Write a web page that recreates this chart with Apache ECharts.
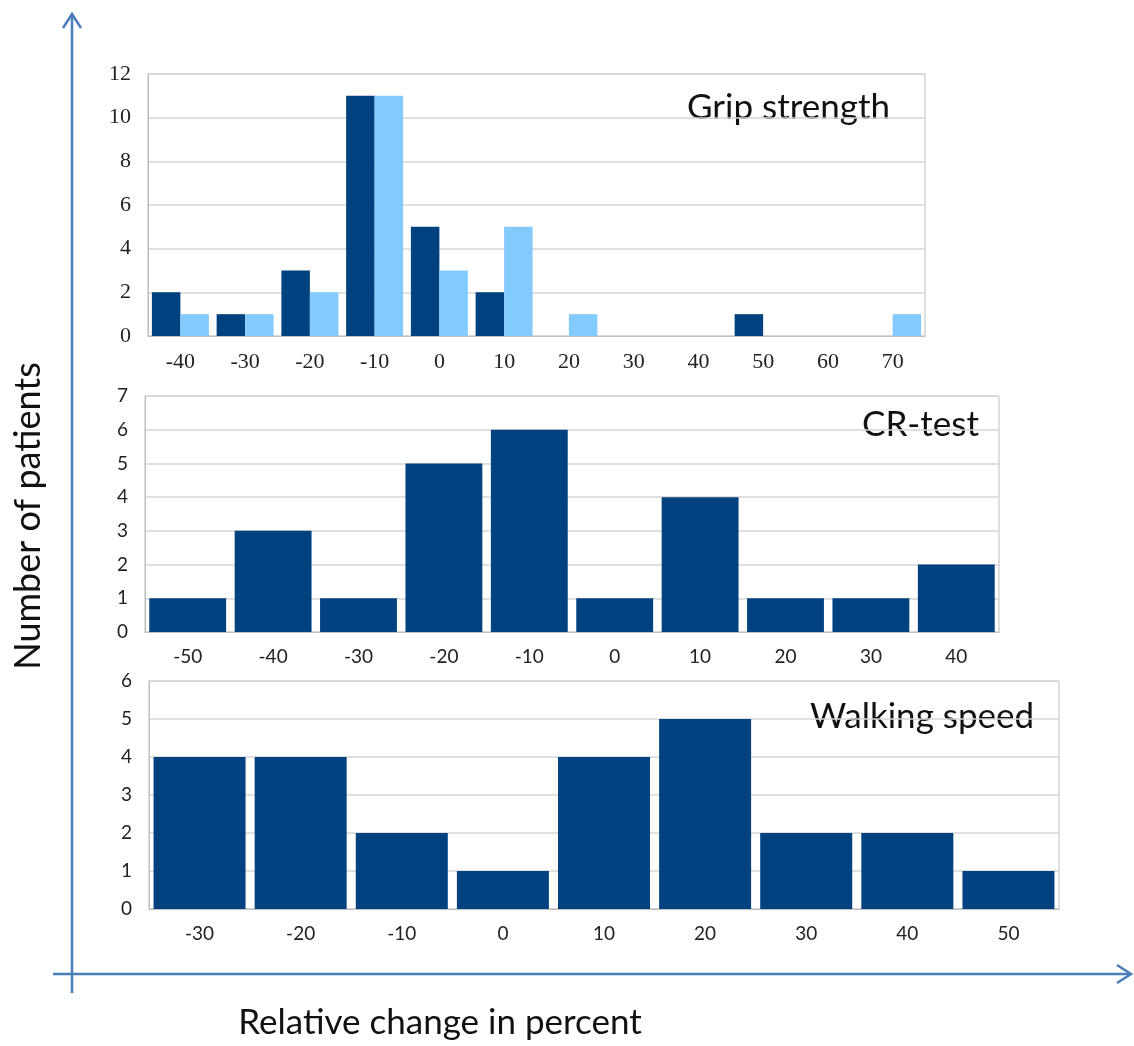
<!DOCTYPE html>
<html>
<head>
<meta charset="utf-8">
<script src="https://cdn.jsdelivr.net/npm/echarts@6/dist/echarts.min.js"></script>
<style>
  html, body { margin: 0; padding: 0; background: #fff; }
  #chart { width: 1134px; height: 1046px; }
</style>
</head>
<body>
<div id="chart"></div>
<script>
  // grip strength
  const gripCategories = ['-40', '-30', '-20', '-10', '0', '10', '20', '30', '40', '50', '60', '70']
  const gripDark = [2, 1, 3, 11, 5, 2, 0, 0, 0, 1, 0, 0]
  const gripLight = [1, 1, 2, 11, 3, 5, 1, 0, 0, 0, 0, 1]

  // CR-test
  const crCategories = ['-50', '-40', '-30', '-20', '-10', '0', '10', '20', '30', '40']
  const crValues = [1, 3, 1, 5, 6, 1, 4, 1, 1, 2]

  // walking speed
  const walkCategories = ['-30', '-20', '-10', '0', '10', '20', '30', '40', '50']
  const walkValues = [4, 4, 2, 1, 4, 5, 2, 2, 1]

  const DARK = '#00427f'
  const LIGHT = '#83caff'
  const ARROW = '#4a7ebb'
  const SANS = 'Lato'
  const SERIF = 'Liberation Serif'

  const chart = echarts.init(document.getElementById('chart'))

  function grid(left, top, width, height) {
    return { left, top, width, height, show: true, borderColor: '#bdbdbd', borderWidth: 1 }
  }

  function xAxis(idx, data, font, size) {
    return {
      type: 'category', gridIndex: idx, data: data,
      axisTick: { show: false },
      axisLine: { lineStyle: { color: '#bdbdbd' } },
      axisLabel: { color: '#222', fontFamily: font, fontSize: size, margin: 15 }
    }
  }

  function yAxis(idx, max, interval, font, size) {
    return {
      type: 'value', gridIndex: idx, min: 0, max: max, interval: interval,
      axisLine: { show: true, lineStyle: { color: '#bdbdbd' } },
      axisTick: { show: false },
      splitLine: { lineStyle: { color: '#d6d6d6', width: 1.5 } },
      axisLabel: { color: '#222', fontFamily: font, fontSize: size, margin: 17 }
    }
  }

  const option = {
    backgroundColor: '#fff',
    animation: false,
    grid: [
      grid(148, 74, 777, 262),
      grid(145, 396, 854, 236),
      grid(149, 681, 910, 228)
    ],
    xAxis: [
      xAxis(0, gripCategories, SERIF, 22),
      xAxis(1, crCategories, SANS, 19),
      xAxis(2, walkCategories, SANS, 19)
    ],
    yAxis: [
      yAxis(0, 12, 2, SERIF, 22),
      yAxis(1, 7, 1, SANS, 19),
      yAxis(2, 6, 1, SANS, 19)
    ],
    series: [
      {
        type: 'bar', xAxisIndex: 0, yAxisIndex: 0, data: gripDark,
        itemStyle: { color: DARK }, barGap: '0%', barCategoryGap: '12%'
      },
      {
        type: 'bar', xAxisIndex: 0, yAxisIndex: 0, data: gripLight,
        itemStyle: { color: LIGHT }, barGap: '0%', barCategoryGap: '12%'
      },
      {
        type: 'bar', xAxisIndex: 1, yAxisIndex: 1, data: crValues,
        itemStyle: { color: DARK }, barCategoryGap: '10%'
      },
      {
        type: 'bar', xAxisIndex: 2, yAxisIndex: 2, data: walkValues,
        itemStyle: { color: DARK }, barCategoryGap: '9%'
      }
    ],
    graphic: [
      // panel titles
      { type: 'text', x: 687, y: 108, style: { text: 'Grip strength', font: '35px ' + SANS, fill: '#111', verticalAlign: 'middle' } },
      { type: 'text', x: 862, y: 425, style: { text: 'CR-test', font: '35px ' + SANS, fill: '#111', verticalAlign: 'middle' } },
      { type: 'text', x: 810, y: 717, style: { text: 'Walking speed', font: '35px ' + SANS, fill: '#111', verticalAlign: 'middle' } },
      // big axes arrows
      { type: 'line', shape: { x1: 72, y1: 14, x2: 72, y2: 993 }, style: { stroke: ARROW, lineWidth: 2.5 } },
      { type: 'polyline', shape: { points: [[63, 28], [72, 14], [81, 28]] }, style: { stroke: ARROW, lineWidth: 2.5, fill: null } },
      { type: 'line', shape: { x1: 53, y1: 974, x2: 1131, y2: 974 }, style: { stroke: ARROW, lineWidth: 2.5 } },
      { type: 'polyline', shape: { points: [[1117, 965], [1131, 974], [1117, 983]] }, style: { stroke: ARROW, lineWidth: 2.5, fill: null } },
      // axis titles
      {
        type: 'text', x: 28, y: 516, rotation: Math.PI / 2,
        style: { text: 'Number of patients', font: '36px ' + SANS, fill: '#111', align: 'center', verticalAlign: 'middle' }
      },
      {
        type: 'text', x: 440, y: 1023,
        style: { text: 'Relative change in percent', font: '35px ' + SANS, fill: '#111', align: 'center', verticalAlign: 'middle' }
      }
    ]
  }

  chart.setOption(option)
</script>
</body>
</html>
